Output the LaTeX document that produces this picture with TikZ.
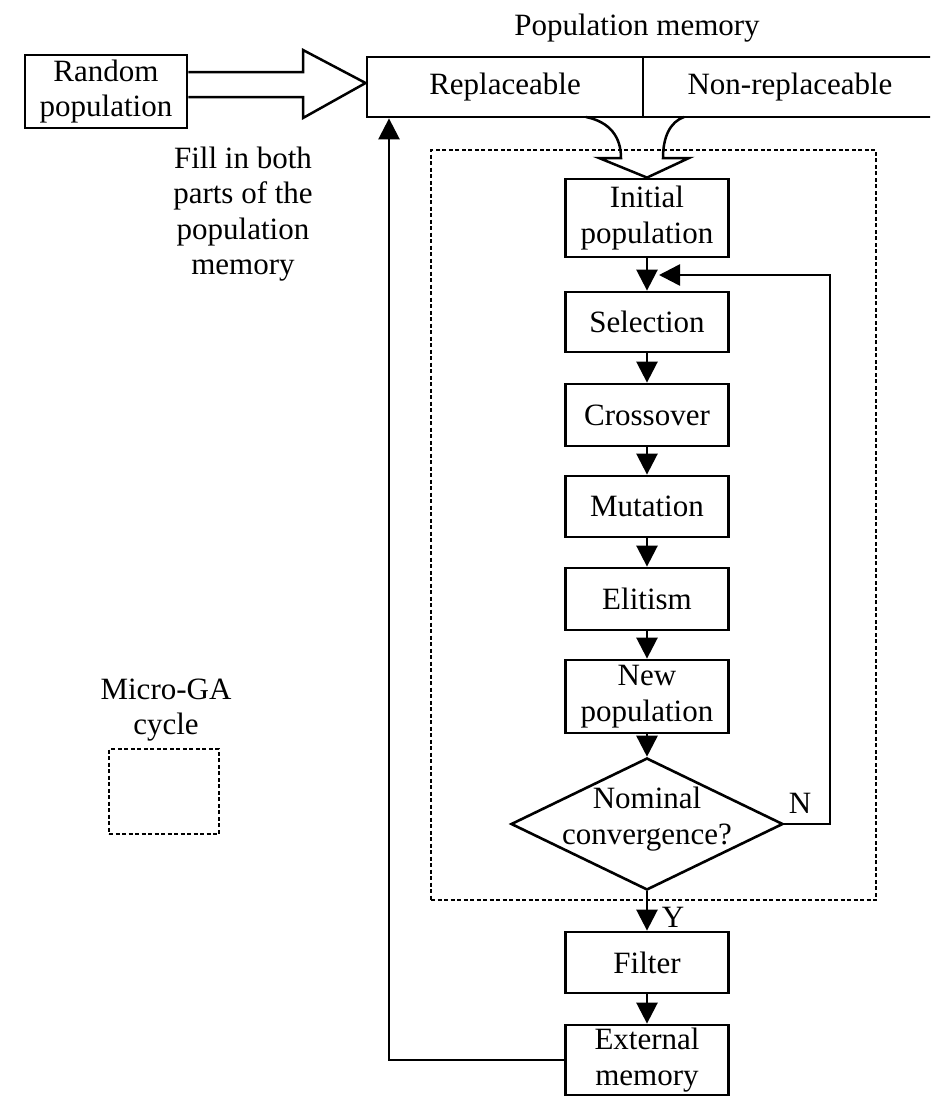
\documentclass[tikz,border=0pt]{standalone}
\usepackage{fontspec}
\setmainfont{Liberation Serif}
\usetikzlibrary{arrows.meta,shapes.geometric,calc}
\newcommand\figfont{\fontsize{31}{35.5}\selectfont}
\begin{document}
\begin{tikzpicture}[x=1pt,y=-1pt,
  figtext/.style={font=\figfont, inner sep=0pt, align=center},
  box/.style={figtext, draw, line width=2.8pt, minimum width=163pt},
  conn/.style={line width=2.6pt, -{Triangle[length=21pt,width=21pt]}},
  hollow/.style={line width=2.5pt, line join=miter},
  dotframe/.style={line width=2.8pt, dash pattern=on 4pt off 2.5pt}]
\useasboundingbox (0,0) rectangle (930,1098);
\clip (0,0) rectangle (930,1098);

% top row
\node[box, minimum width=162pt, minimum height=73pt] (rand) at (106,91.5) {Random\\population};
\node[figtext] (pmlabel) at (637,28) {Population memory};
\node[box, minimum width=276pt, minimum height=60pt] (repl) at (505,87) {Replaceable};
\node[box, minimum width=294pt, minimum height=60pt] (nonrepl) at (790,87) {Non-replaceable};

% hollow arrow from random population
\draw[hollow] (rand.east |- 0,72) -- (303,72) -- (303,50) -- (repl.west |- 0,83)
  -- (303,118) -- (303,97) -- (rand.east |- 0,97);

\node[figtext] (filltext) at (243,214) {Fill in both\\parts of the\\population\\memory};

% micro-GA cycle frame
\node[draw, dotframe, minimum width=445pt, minimum height=750pt, inner sep=0pt] (frame) at (653.5,525) {};

% main chain
\node[box, minimum height=78pt] (init) at (647,218) {Initial\\population};
\node[box, minimum height=60pt] (sel) at (647,322) {Selection};
\node[box, minimum height=62pt] (cross) at (647,415) {Crossover};
\node[box, minimum height=61pt] (mut) at (647,506.5) {Mutation};
\node[box, minimum height=62pt] (elit) at (647,599) {Elitism};
\node[box, minimum height=73pt] (newp) at (647,696.5) {New\\population};
\node[draw, diamond, line width=2.6pt, minimum width=272pt, minimum height=132pt, inner sep=0pt] (dia) at (647,824) {};
\node[figtext] (diatext) at (647,819) {Nominal\\convergence?};
\node[box, minimum height=61pt] (filter) at (647,962.5) {Filter};
\node[box, minimum height=70pt] (ext) at (647,1060) {External\\memory};

% merging hollow arrow
\draw[hollow] (586,117) .. controls (610,122) and (621,137) .. (621,158) -- (599,158)
  -- (init.north) -- (689,158) -- (663,158) .. controls (663,137) and (670,122) .. (684,117);

% connectors
\draw[conn] (init.south) -- (sel.north);
\draw[conn] (sel.south) -- (cross.north);
\draw[conn] (cross.south) -- (mut.north);
\draw[conn] (mut.south) -- (elit.north);
\draw[conn] (elit.south) -- (newp.north);
\draw[conn] (newp.south) -- (dia.north);
\coordinate (loopend) at (659,275);
\draw[conn] (dia.east) -- (830,824) -- (830,275) -- (loopend);
\node[figtext] (nlabel) at (800,803) {N};
\draw[conn] (dia.south) -- (filter.north);
\node[figtext] (ylabel) at (673,917) {Y};
\draw[conn] (filter.south) -- (ext.north);
\draw[conn] (ext.west) -- (ext.west -| 389,0) -- (repl.south -| 389,0);

% legend
\node[figtext] (mglabel) at (166,710) {Micro-GA\\cycle};
\node[draw, dotframe, minimum width=110pt, minimum height=85pt, inner sep=0pt] (legend) at (164,791.5) {};
\end{tikzpicture}
\end{document}
